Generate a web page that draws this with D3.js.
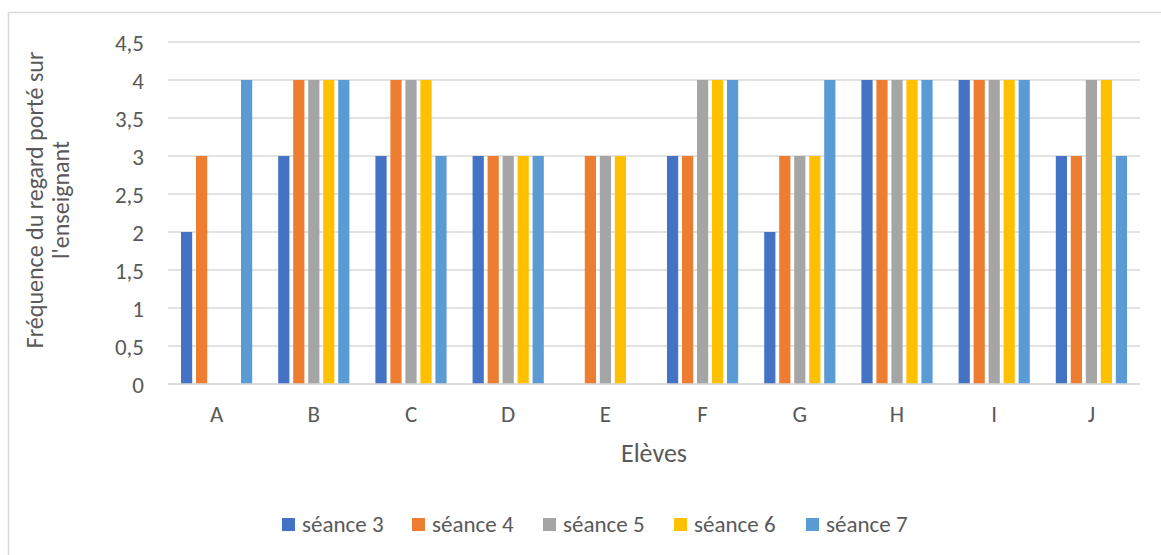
<!DOCTYPE html>
<html>
<head>
<meta charset="utf-8">
<script src="https://cdn.jsdelivr.net/npm/d3@7/dist/d3.min.js"></script>
<style>
  html, body { margin: 0; padding: 0; background: #fff; }
  svg { display: block; }
  text { font-family: Carlito, Lato, "Open Sans", sans-serif; fill: #595959; }
</style>
</head>
<body>
<svg id="chart" width="1161" height="555"></svg>
<script>
const categories = ["A", "B", "C", "D", "E", "F", "G", "H", "I", "J"];
const seriesNames = ["séance 3", "séance 4", "séance 5", "séance 6", "séance 7"];
const seance3 = [2, 3, 3, 3, 0, 3, 2, 4, 4, 3];
const seance4 = [3, 4, 4, 3, 3, 3, 3, 4, 4, 3];
const seance5 = [0, 4, 4, 3, 3, 4, 3, 4, 4, 4];
const seance6 = [0, 4, 4, 3, 3, 4, 3, 4, 4, 4];
const seance7 = [4, 4, 3, 3, 0, 4, 4, 4, 4, 3];
const yTicks = [0, 0.5, 1, 1.5, 2, 2.5, 3, 3.5, 4, 4.5];
const colors = ["#4472C4", "#ED7D31", "#A5A5A5", "#FFC000", "#5B9BD5"];
const yTitle = ["Fréquence du regard porté sur", "l'enseignant"];
const xTitle = "Elèves";

const seriesValues = [seance3, seance4, seance5, seance6, seance7];

const svg = d3.select("#chart");
const FONT = 'Carlito, Lato, "Open Sans", sans-serif';

// chart border
svg.append("rect")
  .attr("x", 8.5).attr("y", 12.5)
  .attr("width", 1174).attr("height", 560)
  .attr("fill", "none").attr("stroke", "#D9D9D9").attr("stroke-width", 1.5);

const plot = { left: 168, right: 1140, top: 42, bottom: 384 };

const x = d3.scaleBand().domain(categories).range([plot.left, plot.right]).padding(0);
const y = d3.scaleLinear().domain([0, 4.5]).range([plot.bottom, plot.top]);

// gridlines
svg.append("g").selectAll("line").data(yTicks).join("line")
  .attr("x1", plot.left).attr("x2", plot.right)
  .attr("y1", d => y(d)).attr("y2", d => y(d))
  .attr("stroke", "#D9D9D9").attr("stroke-width", 1.3);

// y tick labels
const yAxis = d3.axisLeft(y).tickValues(yTicks)
  .tickFormat(d => String(d).replace(".", ","))
  .tickSize(0).tickPadding(24);
const yg = svg.append("g").attr("transform", `translate(${plot.left},0)`).call(yAxis);
yg.select(".domain").remove();
yg.selectAll("text").style("font-size", "23px").attr("fill", "#595959")
  .style("font-family", FONT).attr("dy", "0.35em");

// x tick labels
const xAxis = d3.axisBottom(x).tickSize(0).tickPadding(22);
const xg = svg.append("g").attr("transform", `translate(0,${plot.bottom})`).call(xAxis);
xg.select(".domain").remove();
xg.selectAll("text").style("font-size", "23px").attr("fill", "#595959")
  .style("font-family", FONT).attr("dy", "0.71em");

// bars
const step = 15, barW = 11.2;
const inner = d3.scaleBand().domain(seriesNames).range([0, step * seriesNames.length]);
seriesNames.forEach((name, si) => {
  svg.append("g").selectAll("rect")
    .data(categories.map((c, i) => ({ c, v: seriesValues[si][i] })))
    .join("rect")
    .attr("x", d => x(d.c) + x.bandwidth() / 2 - (step * seriesNames.length) / 2 + inner(name) + (step - barW) / 2)
    .attr("y", d => y(d.v))
    .attr("width", barW)
    .attr("height", d => y(0) - y(d.v))
    .attr("fill", colors[si]);
});

// axis baseline over bars
svg.append("line")
  .attr("x1", plot.left).attr("x2", plot.right)
  .attr("y1", y(0)).attr("y2", y(0))
  .attr("stroke", "#D9D9D9").attr("stroke-width", 1.3);

// y title
const yt = svg.append("text")
  .attr("transform", `translate(0,200) rotate(-90)`)
  .attr("text-anchor", "middle")
  .style("font-size", "24px");
yTitle.forEach((t, i) => {
  yt.append("tspan").attr("x", 0).attr("y", 43 + i * 26).text(t);
});

// x title
svg.append("text")
  .attr("x", (plot.left + plot.right) / 2).attr("y", 462)
  .attr("text-anchor", "middle")
  .style("font-size", "26px")
  .text(xTitle);

// legend
const legendX = [282, 412, 543, 674, 806];
const lg = svg.append("g");
seriesNames.forEach((name, i) => {
  lg.append("rect").attr("x", legendX[i]).attr("y", 518).attr("width", 13).attr("height", 13).attr("fill", colors[i]);
  lg.append("text").attr("x", legendX[i] + 20).attr("y", 532).style("font-size", "23px").text(name);
});
</script>
</body>
</html>
